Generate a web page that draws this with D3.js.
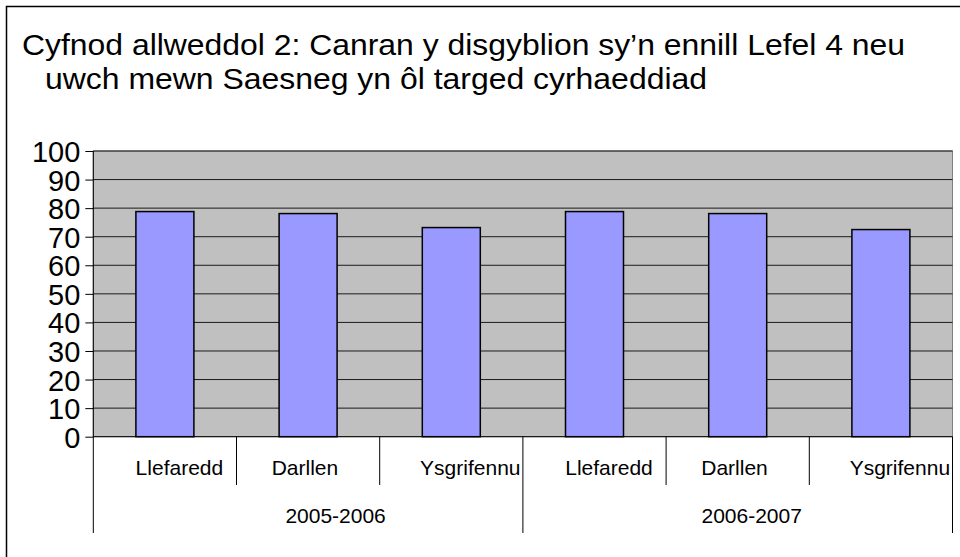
<!DOCTYPE html>
<html>
<head>
<meta charset="utf-8">
<script src="https://cdn.jsdelivr.net/npm/d3@7"></script>
<style>
  body { margin: 0; background: #fff; }
  svg { display: block; font-family: "Liberation Sans", Arial, sans-serif; }
</style>
</head>
<body>
<div id="chart"></div>
<script>
// Data
const years = ['2005-2006', '2006-2007'];
const subjects = ['Llefaredd', 'Darllen', 'Ysgrifennu'];
const values = [
  [78.8, 78.1, 73.2],   // 2005-2006
  [78.8, 78.1, 72.5]    // 2006-2007
];
const yTicks = [0, 10, 20, 30, 40, 50, 60, 70, 80, 90, 100];
const titleLines = [
  'Cyfnod allweddol 2: Canran y disgyblion sy\u2019n ennill Lefel 4 neu',
  'uwch mewn Saesneg yn \u00f4l targed cyrhaeddiad'
];

const width = 960, height = 557;
const plot = { left: 93.3, right: 952.5, top: 151, bottom: 436.7 };

// label nudges as seen in the original (Excel style placement)
const subjectNudge = [14.5, -3.2, 19];
const yearNudge = [27.5, 14];

const cats = [];
years.forEach((yr, gi) => subjects.forEach((s, si) => {
  cats.push({ id: yr + '|' + s, year: yr, subject: s, gi, si, value: values[gi][si] });
}));

const svg = d3.select('#chart').append('svg')
  .attr('width', width)
  .attr('height', height);

// outer frame (right/bottom edges fall outside the picture)
svg.append('rect')
  .attr('x', 6.5).attr('y', 6.5)
  .attr('width', width).attr('height', height)
  .attr('fill', 'none')
  .attr('stroke', '#000')
  .attr('stroke-width', 1.5);

// title
const titleBox = [
  { x: 22, y: 55, w: 883 },
  { x: 45, y: 89, w: 662 }
];
titleLines.forEach((t, i) => {
  svg.append('text')
    .attr('x', titleBox[i].x)
    .attr('y', titleBox[i].y)
    .attr('font-size', '30px')
    .attr('fill', '#000')
    .attr('textLength', titleBox[i].w)
    .attr('lengthAdjust', 'spacingAndGlyphs')
    .text(t);
});

const x = d3.scaleBand()
  .domain(cats.map(d => d.id))
  .range([plot.left, plot.right])
  .padding(0);

const y = d3.scaleLinear()
  .domain([0, 100])
  .range([plot.bottom, plot.top]);

// plot background
svg.append('rect')
  .attr('x', plot.left).attr('y', plot.top)
  .attr('width', plot.right - plot.left)
  .attr('height', plot.bottom - plot.top)
  .attr('fill', '#c0c0c0')
  .attr('stroke', '#808080')
  .attr('stroke-width', 1);

// gridlines
svg.append('g')
  .selectAll('line')
  .data(yTicks.filter(d => d > 0))
  .join('line')
  .attr('x1', plot.left).attr('x2', plot.right)
  .attr('y1', d => y(d)).attr('y2', d => y(d))
  .attr('stroke', '#1a1a1a')
  .attr('stroke-width', 1);

// y axis
const yAxis = svg.append('g')
  .attr('transform', `translate(${plot.left},0)`)
  .call(d3.axisLeft(y).tickValues(yTicks).tickSize(8).tickPadding(5).tickFormat(d3.format('d')));
yAxis.select('.domain').remove();
yAxis.selectAll('.tick line').attr('stroke', '#000');
yAxis.selectAll('.tick text')
  .attr('font-size', '29px')
  .attr('font-family', '"Liberation Sans", Arial, sans-serif')
  .attr('fill', '#000')
  .attr('dy', '0.36em');

// bars
const barW = x.bandwidth() * 0.405;
svg.append('g')
  .selectAll('rect')
  .data(cats)
  .join('rect')
  .attr('x', d => x(d.id) + (x.bandwidth() - barW) / 2)
  .attr('y', d => y(d.value))
  .attr('width', barW)
  .attr('height', d => y(0) - y(d.value))
  .attr('fill', '#9999ff')
  .attr('stroke', '#000')
  .attr('stroke-width', 1.5);

// category axis
const axisY = plot.bottom;
svg.append('line')
  .attr('x1', plot.left).attr('x2', plot.right)
  .attr('y1', axisY).attr('y2', axisY)
  .attr('stroke', '#000');

// left axis line continues down through the label area
svg.append('line')
  .attr('x1', plot.left).attr('x2', plot.left)
  .attr('y1', plot.top).attr('y2', 533)
  .attr('stroke', '#000');

// separators between subjects and between years
const seps = cats.map(d => ({ pos: x(d.id) + x.bandwidth(), end: d.si === subjects.length - 1 }));
svg.append('g')
  .selectAll('line')
  .data(seps)
  .join('line')
  .attr('x1', d => d.pos).attr('x2', d => d.pos)
  .attr('y1', axisY)
  .attr('y2', d => d.end ? 533 : 485)
  .attr('stroke', '#000');

// subject labels
svg.append('g')
  .selectAll('text')
  .data(cats)
  .join('text')
  .attr('x', d => x(d.id) + x.bandwidth() / 2 + subjectNudge[d.si])
  .attr('y', 475)
  .attr('text-anchor', 'middle')
  .attr('font-size', '21px')
  .attr('fill', '#000')
  .text(d => d.subject);

// year labels
svg.append('g')
  .selectAll('text')
  .data(years)
  .join('text')
  .attr('x', (d, i) => {
    const first = x(d + '|' + subjects[0]);
    const last = x(d + '|' + subjects[subjects.length - 1]) + x.bandwidth();
    return (first + last) / 2 + yearNudge[i];
  })
  .attr('y', 523.3)
  .attr('text-anchor', 'middle')
  .attr('font-size', '21px')
  .attr('fill', '#000')
  .text(d => d);
</script>
</body>
</html>
